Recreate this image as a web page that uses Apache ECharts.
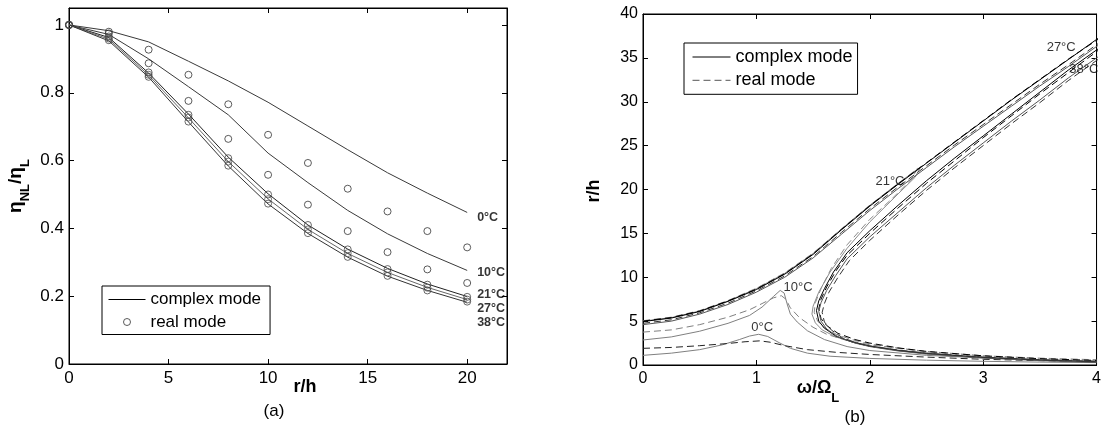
<!DOCTYPE html>
<html>
<head>
<meta charset="utf-8">
<script src="https://cdn.jsdelivr.net/npm/echarts@6/dist/echarts.min.js"></script>
<style>
html,body{margin:0;padding:0;background:#fff;}
#chart{width:1104px;height:435px;}
</style>
</head>
<body>
<div id="chart"></div>
<script>
// ---------- Panel (a) data ----------
var rL = [0, 2, 4, 6, 8, 10, 12, 14, 16, 18, 20];
var complex0  = [1, 0.983, 0.95, 0.893, 0.835, 0.772, 0.702, 0.632, 0.564, 0.504, 0.447];
var complex10 = [1, 0.972, 0.90, 0.818, 0.735, 0.622, 0.535, 0.453, 0.384, 0.326, 0.276];
var complex21 = [1, 0.963, 0.858, 0.737, 0.610, 0.502, 0.410, 0.339, 0.282, 0.236, 0.199];
var complex27 = [1, 0.958, 0.852, 0.726, 0.597, 0.487, 0.397, 0.326, 0.270, 0.226, 0.190];
var complex38 = [1, 0.953, 0.846, 0.714, 0.584, 0.472, 0.385, 0.315, 0.259, 0.217, 0.182];
var real0  = [1, 0.980, 0.927, 0.853, 0.766, 0.676, 0.593, 0.517, 0.450, 0.392, 0.344];
var real10 = [1, 0.975, 0.887, 0.776, 0.664, 0.558, 0.470, 0.392, 0.330, 0.279, 0.239];
var real21 = [1, 0.966, 0.860, 0.735, 0.607, 0.500, 0.410, 0.338, 0.280, 0.234, 0.198];
var real27 = [1, 0.960, 0.853, 0.727, 0.597, 0.486, 0.397, 0.327, 0.270, 0.225, 0.190];
var real38 = [1, 0.955, 0.847, 0.715, 0.585, 0.473, 0.386, 0.316, 0.260, 0.217, 0.184];
var tempLabelsA = [
  {text: '0°C',  at: [20.5, 0.432]},
  {text: '10°C', at: [20.5, 0.270]},
  {text: '21°C', at: [20.5, 0.206]},
  {text: '27°C', at: [20.5, 0.163]},
  {text: '38°C', at: [20.5, 0.121]}
];

// ---------- Panel (b) data: [omega/OmegaL, r/h] ----------
var c0R = [[0,1.1],[0.25,1.35],[0.5,1.75],[0.7,2.3],[0.85,2.9],[0.94,3.3],[1.02,3.5],[1.1,3.25],[1.2,2.55],[1.3,1.9],[1.45,1.35],[1.65,1.0],[2,0.75],[2.5,0.55],[3,0.42],[3.5,0.33],[4,0.27]];
var r0R = [[0,1.9],[0.25,2.0],[0.5,2.2],[0.75,2.45],[0.9,2.65],[1.03,2.75],[1.12,2.6],[1.25,2.2],[1.45,1.75],[1.7,1.45],[2,1.2],[2.5,0.9],[3,0.65],[3.5,0.5],[4,0.4]];
var c10R = [[0,2.85],[0.25,3.2],[0.5,3.85],[0.75,4.75],[0.94,5.65],[1.05,6.6],[1.15,7.8],[1.21,8.5],[1.245,8.2],[1.27,7.0],[1.3,5.8],[1.36,4.9],[1.45,3.9],[1.6,2.9],[1.8,2.1],[2,1.65],[2.5,1.1],[3,0.8],[3.5,0.6],[4,0.48]];
var r10R = [[0,3.75],[0.25,4.0],[0.5,4.6],[0.75,5.45],[0.94,6.3],[1.05,7.0],[1.15,7.65],[1.22,7.9],[1.26,7.5],[1.3,6.5],[1.38,5.4],[1.5,4.3],[1.62,3.5],[1.8,2.8],[2,2.3],[2.5,1.55],[3,1.05],[3.5,0.78],[4,0.6]];
var c21R = [[0,5.0],[0.25,5.4],[0.5,6.15],[0.75,7.3],[1,8.7],[1.25,10.45],[1.5,12.7],[1.75,15.5],[2,18.2],[2.25,20.7],[2.45,22.6],[2.4,21.4],[2.25,19.5],[2,16.3],[1.8,13.3],[1.65,10.6],[1.55,8.3],[1.5,6.7],[1.49,5.8],[1.52,4.8],[1.58,4.0],[1.7,3.2],[1.85,2.6],[2,2.2],[2.25,1.7],[2.5,1.35],[3,0.9],[3.5,0.6],[4,0.42]];
var r21R = [[0,5.05],[0.25,5.45],[0.5,6.2],[0.75,7.35],[1,8.75],[1.25,10.5],[1.5,12.75],[1.75,15.5],[2,18.2],[2.25,20.6],[2.42,22.4],[2.37,21.2],[2.2,19.0],[2,16.6],[1.8,13.7],[1.66,11.0],[1.57,8.7],[1.52,7.1],[1.51,6.0],[1.54,5.0],[1.6,4.2],[1.72,3.4],[1.87,2.8],[2,2.4],[2.25,1.9],[2.5,1.5],[3,1.0],[3.5,0.7],[4,0.5]];
var c27R = [[0,4.95],[0.25,5.35],[0.5,6.1],[0.75,7.25],[1,8.6],[1.25,10.35],[1.5,12.6],[1.75,15.4],[2,18.1],[2.25,20.6],[2.5,23.0],[2.75,25.4],[3,27.8],[3.25,30.2],[3.5,32.5],[3.75,34.8],[4,37.1],[4.12,38.2],[4.12,37.0],[4,35.9],[3.75,33.6],[3.5,31.1],[3.25,28.6],[3,26.1],[2.75,23.6],[2.5,21.0],[2.25,18.2],[2,15.3],[1.8,12.8],[1.68,10.6],[1.6,8.7],[1.55,7.3],[1.53,6.2],[1.55,5.0],[1.6,4.2],[1.7,3.3],[1.85,2.6],[2,2.15],[2.25,1.65],[2.5,1.3],[3,0.85],[3.5,0.55],[4,0.35]];
var r27R = [[0,5.0],[0.25,5.4],[0.5,6.15],[0.75,7.3],[1,8.65],[1.25,10.4],[1.5,12.65],[1.75,15.45],[2,18.15],[2.25,20.65],[2.5,23.05],[2.75,25.45],[3,27.85],[3.25,30.25],[3.5,32.55],[3.75,34.85],[4,37.0],[4.1,37.9],[4.1,36.9],[4,35.7],[3.75,33.3],[3.5,30.9],[3.25,28.4],[3,25.9],[2.75,23.3],[2.5,20.7],[2.25,17.9],[2,15.0],[1.8,12.5],[1.7,10.7],[1.62,8.9],[1.57,7.5],[1.55,6.4],[1.57,5.3],[1.62,4.5],[1.72,3.6],[1.87,2.9],[2,2.5],[2.25,1.95],[2.5,1.55],[3,1.05],[3.5,0.72],[4,0.52]];
var c38R = [[0,4.6],[0.25,5.0],[0.5,5.8],[0.75,6.9],[1,8.3],[1.25,10.0],[1.5,12.2],[1.75,14.9],[2,17.6],[2.25,20.1],[2.5,22.5],[2.75,24.9],[3,27.2],[3.25,29.5],[3.5,31.8],[3.75,34.0],[4,36.3],[4.15,37.6],[4.15,36.3],[4,35.0],[3.75,32.7],[3.5,30.2],[3.25,27.8],[3,25.3],[2.75,22.8],[2.5,20.2],[2.25,17.4],[2,14.6],[1.8,12.1],[1.7,10.2],[1.62,8.5],[1.57,7.1],[1.55,6.1],[1.57,5.0],[1.62,4.1],[1.72,3.2],[1.87,2.5],[2,2.1],[2.25,1.6],[2.5,1.25],[3,0.8],[3.5,0.5],[4,0.32]];
var r38R = [[0,4.75],[0.25,5.15],[0.5,5.95],[0.75,7.05],[1,8.45],[1.25,10.15],[1.5,12.35],[1.75,15.1],[2,17.8],[2.25,20.3],[2.5,22.7],[2.75,25.1],[3,27.4],[3.25,29.7],[3.5,32.0],[3.75,34.2],[4,36.5],[4.15,37.8],[4.15,36.0],[4,34.7],[3.75,32.4],[3.5,29.9],[3.25,27.5],[3,25.0],[2.75,22.5],[2.5,19.9],[2.25,17.1],[2,14.2],[1.82,11.9],[1.72,10.0],[1.64,8.3],[1.6,7.0],[1.58,6.0],[1.6,4.9],[1.66,4.0],[1.76,3.1],[1.9,2.45],[2,2.15],[2.25,1.7],[2.5,1.35],[3,0.9],[3.5,0.6],[4,0.4]];
var tempLabelsB = [
  {text: '0°C',  at: [0.955, 4.28]},
  {text: '10°C', at: [1.24, 8.84]},
  {text: '21°C', at: [2.05, 20.9]},
  {text: '27°C', at: [3.56, 36.2]},
  {text: '38°C', at: [3.76, 33.7]}
];

// ---------- build ----------
var FONT = "'Liberation Sans', Arial, sans-serif";
var NARROW = "'Liberation Sans Narrow', 'Liberation Sans', Arial, sans-serif";

function pairs(xs, ys) { return xs.map(function (x, i) { return [x, ys[i]]; }); }

function axisPair(grid, min, max, interval, fontSize, showMax) {
  var base = {
    type: 'value', gridIndex: grid, min: min, max: max, interval: interval,
    splitLine: {show: false},
    axisLine: {show: true, onZero: false, lineStyle: {color: '#000', width: 1}},
    axisTick: {show: true, inside: true, length: 5, lineStyle: {color: '#000'}}
  };
  var main = Object.assign({}, base, {
    axisLabel: {show: true, color: '#000', fontSize: fontSize, fontFamily: FONT, margin: 6, showMaxLabel: showMax}
  });
  var mirror = Object.assign({}, base, {axisLabel: {show: false}});
  return [main, mirror];
}

var xa = axisPair(0, 0, 22, 5, 17, false);
var ya = axisPair(0, 0, 1.05, 0.2, 17, false);
var xb = axisPair(1, 0, 4, 1, 16, true);
var yb = axisPair(1, 0, 40, 5, 16, true);
xa[0].position = 'bottom'; xa[1].position = 'top';
ya[0].position = 'left';   ya[1].position = 'right';
xb[0].position = 'bottom'; xb[1].position = 'top';
yb[0].position = 'left';   yb[1].position = 'right';
ya[0].axisLabel.margin = 5; yb[0].axisLabel.margin = 5;

var series = [];
function lineA(data, color) {
  series.push({type: 'line', name: 'complex mode', xAxisIndex: 0, yAxisIndex: 0, data: pairs(rL, data),
    symbol: 'none', lineStyle: {color: color, width: 1}, itemStyle: {color: color}, z: 2});
}
function circA(data, color) {
  series.push({type: 'scatter', name: 'real mode', xAxisIndex: 0, yAxisIndex: 0, data: pairs(rL, data),
    symbol: 'circle', symbolSize: 7,
    itemStyle: {color: 'rgba(0,0,0,0)', borderColor: color, borderWidth: 1}, z: 3});
}
lineA(complex0, '#3a3a3a');
lineA(complex10, '#3a3a3a');
lineA(complex21, '#222');
lineA(complex27, '#666');
lineA(complex38, '#333');
circA(real0, '#333');
circA(real10, '#333');
circA(real21, '#444');
circA(real27, '#555');
circA(real38, '#444');

function lineB(data, color, dashed) {
  series.push({type: 'line', name: dashed ? 'real mode (b)' : 'complex mode (b)', xAxisIndex: 2, yAxisIndex: 2,
    data: data, symbol: 'none', clip: true,
    lineStyle: {color: color, width: 1, type: dashed ? [7, 4] : 'solid'}, itemStyle: {color: color}});
}
lineB(c0R, '#808080', false);
lineB(r0R, '#222', true);
lineB(c10R, '#808080', false);
lineB(r10R, '#808080', true);
lineB(c21R, '#8a8a8a', false);
lineB(r21R, '#8a8a8a', true);
lineB(c27R, '#000', false);
lineB(r27R, '#000', true);
lineB(c38R, '#555', false);
lineB(r38R, '#333', true);

function labels(list, xi, yi, font, weight, size) {
  series.push({type: 'scatter', name: 'labels', xAxisIndex: xi, yAxisIndex: yi, symbolSize: 0, silent: true,
    data: list.map(function (l) { return {name: l.text, value: l.at}; }),
    label: {show: true, position: 'right', distance: 0, formatter: '{b}', color: '#000',
      fontFamily: font, fontWeight: weight, fontSize: size}, z: 5});
}
labels(tempLabelsA, 0, 0, NARROW, 'bold', 12.5);
labels(tempLabelsB, 2, 2, NARROW, 'normal', 13);

var hideSym = {opacity: 0};
var option = {
  animation: false,
  backgroundColor: '#fff',
  grid: [
    {left: 69, top: 8, width: 438, height: 356, show: true, borderColor: '#000', borderWidth: 1, backgroundColor: '#fff'},
    {left: 643, top: 14, width: 457, height: 351, show: true, borderColor: '#000', borderWidth: 1, backgroundColor: '#fff'}
  ],
  xAxis: [xa[0], xa[1], xb[0], xb[1]],
  yAxis: [ya[0], ya[1], yb[0], yb[1]],
  legend: [
    {data: [
       {name: 'complex mode', itemStyle: hideSym, lineStyle: {color: '#000', width: 1}},
       {name: 'real mode', itemStyle: {color: 'rgba(0,0,0,0)', borderColor: '#333', borderWidth: 1}}
     ],
     orient: 'vertical', left: 102, top: 286,
     itemWidth: 37, itemHeight: 7, itemGap: 5.5, padding: [5, 9, 4, 6],
     backgroundColor: '#fff', borderColor: '#000', borderWidth: 1, selectedMode: false,
     textStyle: {color: '#000', fontSize: 17, fontFamily: FONT}},
    {data: [
       {name: 'complex mode (b)', itemStyle: hideSym, lineStyle: {color: '#000', width: 1, type: 'solid'}},
       {name: 'real mode (b)', itemStyle: hideSym, lineStyle: {color: '#555', width: 1, type: [7, 4]}}
     ],
     orient: 'vertical', left: 684, top: 43,
     itemWidth: 38, itemHeight: 8, itemGap: 5.3, padding: [5, 5, 5, 8],
     backgroundColor: '#fff', borderColor: '#000', borderWidth: 1, selectedMode: false,
     formatter: function (n) { return n.replace(' (b)', ''); },
     textStyle: {color: '#000', fontSize: 18, fontFamily: FONT}}
  ],
  graphic: [
    {type: 'text', x: 19, y: 186, rotation: Math.PI / 2,
     style: {text: '{a|η}{s|NL}{a|/η}{s|L}', textAlign: 'center', textVerticalAlign: 'middle', fill: '#000',
       rich: {a: {fontSize: 19, fontWeight: 'bold', fontFamily: FONT, verticalAlign: 'top', lineHeight: 26},
              s: {fontSize: 13, fontWeight: 'bold', fontFamily: FONT, verticalAlign: 'bottom', lineHeight: 26}}}},
    {type: 'text', x: 305, y: 387,
     style: {text: 'r/h', textAlign: 'center', textVerticalAlign: 'middle', fill: '#000',
       font: 'bold 18px ' + FONT}},
    {type: 'text', x: 274, y: 411,
     style: {text: '(a)', textAlign: 'center', textVerticalAlign: 'middle', fill: '#000',
       font: '17px ' + FONT}},
    {type: 'text', x: 594, y: 191, rotation: Math.PI / 2,
     style: {text: 'r/h', textAlign: 'center', textVerticalAlign: 'middle', fill: '#000',
       font: 'bold 18px ' + FONT}},
    {type: 'text', x: 818, y: 392,
     style: {text: '{a|ω/Ω}{s|L}', textAlign: 'center', textVerticalAlign: 'middle', fill: '#000',
       rich: {a: {fontSize: 18, fontWeight: 'bold', fontFamily: FONT, verticalAlign: 'top', lineHeight: 26},
              s: {fontSize: 13, fontWeight: 'bold', fontFamily: FONT, verticalAlign: 'bottom', lineHeight: 26}}}},
    {type: 'text', x: 855, y: 417,
     style: {text: '(b)', textAlign: 'center', textVerticalAlign: 'middle', fill: '#000',
       font: '17px ' + FONT}}
  ],
  series: series
};

var chart = echarts.init(document.getElementById('chart'), null, {renderer: 'canvas'});
chart.setOption(option);
</script>
</body>
</html>
